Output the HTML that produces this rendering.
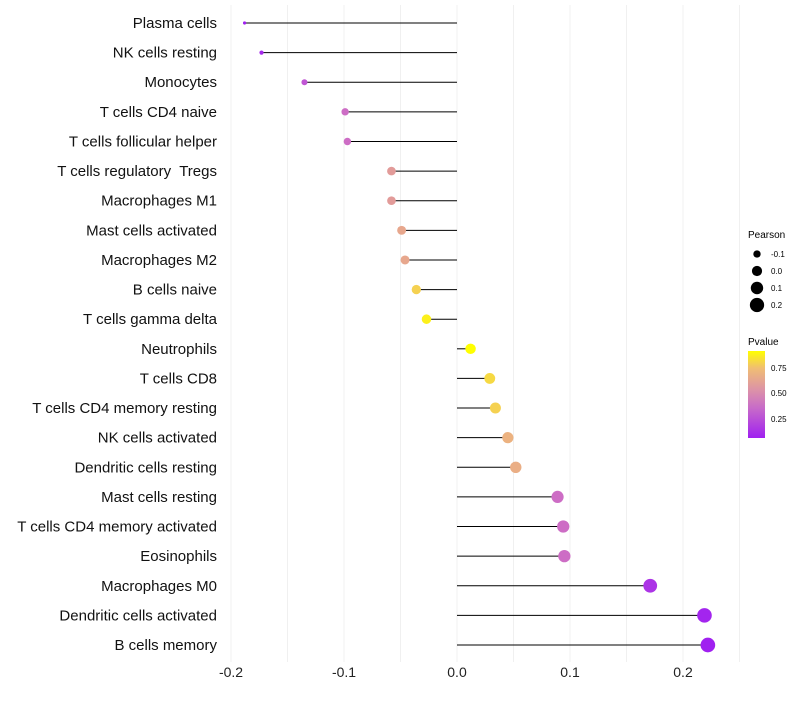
<!DOCTYPE html>
<html><head><meta charset="utf-8"><style>
body{margin:0;background:#fff;font-family:"Liberation Sans",sans-serif}
svg text{font-family:"Liberation Sans",sans-serif;white-space:pre}
</style></head><body>
<svg id="chart" width="800" height="700">
<defs><linearGradient id="pg" x1="0" y1="1" x2="0" y2="0">
<stop offset="0" stop-color="#a020f0"/><stop offset="0.35" stop-color="#c86cc8"/><stop offset="0.55" stop-color="#dc92a8"/><stop offset="0.8" stop-color="#f0bd74"/><stop offset="1" stop-color="#ffff00"/></linearGradient></defs>
<g id="grid"></g><g id="marks"></g><g id="labels"></g>
<g>
<text x="748" y="238" font-size="10">Pearson</text>
<g id="sizeLegend"></g>
</g>
<g>
<text x="748" y="345" font-size="10">Pvalue</text>
<rect x="748" y="351" width="17" height="87" fill="url(#pg)"/>
<text x="771" y="371" font-size="8">0.75</text>
<text x="771" y="396" font-size="8">0.50</text>
<text x="771" y="422" font-size="8">0.25</text>
</g>
</svg>
<script>
const cells=["Plasma cells","NK cells resting","Monocytes","T cells CD4 naive","T cells follicular helper","T cells regulatory  Tregs","Macrophages M1","Mast cells activated","Macrophages M2","B cells naive","T cells gamma delta","Neutrophils","T cells CD8","T cells CD4 memory resting","NK cells activated","Dendritic cells resting","Mast cells resting","T cells CD4 memory activated","Eosinophils","Macrophages M0","Dendritic cells activated","B cells memory"];
const pearson=[-0.188,-0.173,-0.135,-0.099,-0.097,-0.058,-0.058,-0.049,-0.046,-0.036,-0.027,0.012,0.029,0.034,0.045,0.052,0.089,0.094,0.095,0.171,0.219,0.222];
const pvals=[0.06,0.1,0.3,0.4,0.4,0.6,0.6,0.65,0.65,0.8,0.88,0.92,0.82,0.8,0.7,0.68,0.4,0.4,0.4,0.15,0.08,0.06];
const xTicks=[-0.2,-0.1,0.0,0.1,0.2];
const xTickLabels=["-0.2","-0.1","0.0","0.1","0.2"];
const sizeLegendVals=[-0.1,0.0,0.1,0.2];

const NS="http://www.w3.org/2000/svg";
const x=v=>457+v*1130;
const y=i=>23+i*(645-23)/(cells.length-1);
const r=v=>Math.sqrt(Math.max(1,26+125*v));
const stops=[[0,[160,32,240]],[0.35,[200,100,205]],[0.55,[220,140,170]],[0.8,[240,189,116]],[1,[255,255,0]]];
function col(p){let t=(p-0.06)/(0.92-0.06);t=Math.max(0,Math.min(1,t));
for(let k=1;k<stops.length;k++){if(t<=stops[k][0]){const a=stops[k-1],b=stops[k];const f=(t-a[0])/(b[0]-a[0]);
return "rgb("+a[1].map((c,j)=>Math.round(c+(b[1][j]-c)*f)).join(",")+")";}}return "rgb(255,255,0)";}
function mk(t,attrs,parent){const e=document.createElementNS(NS,t);for(const k in attrs)e.setAttribute(k,attrs[k]);parent.appendChild(e);return e;}
const grid=document.getElementById("grid"),marks=document.getElementById("marks"),labels=document.getElementById("labels");
for(let v=-0.2;v<=0.2501;v+=0.05){const g=mk("line",{x1:x(v),x2:x(v),y1:5,y2:662,stroke:"#f0f0f0","stroke-width":1},grid);

}
xTicks.forEach((v,i)=>{const t=mk("text",{x:x(v),y:677,"font-size":14,"text-anchor":"middle",fill:"#222"},labels);t.textContent=xTickLabels[i];

});
cells.forEach((c,i)=>{
const t=mk("text",{x:217,y:y(i)+5,"font-size":15,"text-anchor":"end",fill:"#111"},labels);t.textContent=c;


const l=mk("line",{x1:x(0),x2:x(pearson[i]),y1:y(i),y2:y(i),stroke:"#000","stroke-width":1},marks);


const d=mk("circle",{cx:x(pearson[i]),cy:y(i),r:r(pearson[i]),fill:col(pvals[i])},marks);


});
const sl=document.getElementById("sizeLegend");
sizeLegendVals.forEach((v,i)=>{const cy=254+i*17;
const c=mk("circle",{cx:757,cy:cy,r:r(v),fill:"#000"},sl);


const t=mk("text",{x:771,y:cy+3,"font-size":8},sl);t.textContent=v===0?"0.0":String(v);

});
</script>
</body></html>
